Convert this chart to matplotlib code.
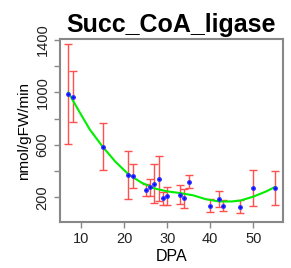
import numpy as np
import matplotlib
matplotlib.use("Agg")
import matplotlib.pyplot as plt

# measured points (DPA, mean, error)
dpa = [7, 8, 15, 21, 22, 25, 26, 27, 28, 29, 30, 33, 34, 35, 40, 42, 43, 47, 50, 55]
activity = [986, 968, 586, 370, 365, 256, 276, 304, 342, 192, 208, 220, 192, 319, 136, 185, 136, 128, 271, 271]
err = [380, 195, 178, 183, 92, 45, 63, 147, 170, 52, 70, 70, 72, 50, 50, 62, 40, 50, 135, 130]

# fitted trend
fit_x = [7, 10, 12, 15, 18, 21, 24, 27, 30, 33, 36, 39, 42, 45, 47, 50, 53, 55]
fit_y = [1000, 830, 718, 586, 470, 375, 312, 268, 245, 232, 215, 185, 168, 168, 175, 205, 245, 278]

plt.rcParams['font.family'] = ['Liberation Sans', 'DejaVu Sans']

fig = plt.figure(figsize=(2.91, 2.68), dpi=100)
ax = fig.add_axes([0.206, 0.172, 0.767, 0.682])

ax.errorbar(dpa, activity, yerr=err, fmt='none', ecolor='#ff5050',
            elinewidth=1.0, capsize=3, capthick=1.0)
ax.plot(fit_x, fit_y, color='#00ee00', lw=1.5)
ax.plot(dpa, activity, 'o', color='#0000ff', ms=2.5, mec='#3030ff')

ax.set_xlim(5.08, 56.92)
ax.set_ylim(12, 1407)
ax.set_xticks([10, 20, 30, 40, 50])
yt = [200, 400, 600, 800, 1000, 1200, 1400]
ax.set_yticks(yt)
ax.set_yticklabels([str(v) if v in (200, 600, 1000, 1400) else '' for v in yt],
                   rotation=90, va='center')

for s in ax.spines.values():
    s.set_color('#888888')
    s.set_linewidth(1.5)
ax.tick_params(colors='#888888', labelcolor='#222222', labelsize=10.5,
               length=4, width=1)

ax.set_title('Succ_CoA_ligase', fontsize=18, fontweight='bold', pad=5)
ax.set_xlabel('DPA', fontsize=11.5, labelpad=2)
ax.set_ylabel('nmol/gFW/min', fontsize=11, labelpad=3)

fig.savefig('out.png', dpi=100)
